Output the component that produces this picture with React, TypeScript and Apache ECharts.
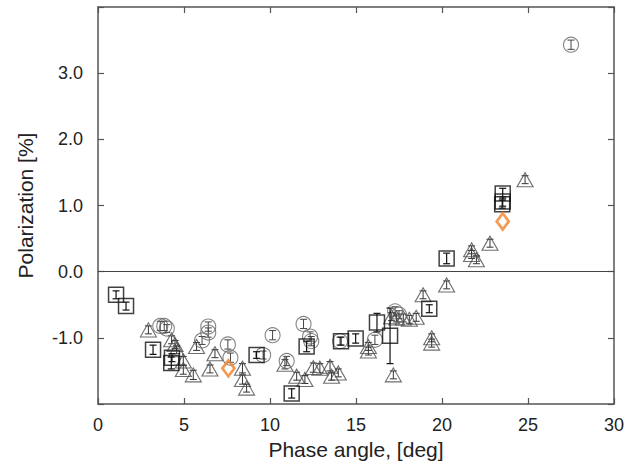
import React, { useEffect, useRef } from "react";
import * as echarts from "echarts";

// [phase angle (deg), polarization (%), error (%)]
const squares: number[][] = [
  [1.05, -0.35, 0.06], [1.63, -0.52, 0.06], [3.2, -1.18, 0.07], [4.26, -1.38, 0.09],
  [4.3, -1.3, 0.06], [9.22, -1.26, 0.05], [11.26, -1.84, 0.07], [12.13, -1.13, 0.08],
  [14.13, -1.05, 0.06], [14.98, -1.01, 0.07], [16.22, -0.77, 0.14], [16.98, -0.97, 0.42],
  [19.26, -0.56, 0.06], [20.27, 0.2, 0.08], [23.53, 1.18, 0.08], [23.53, 1.06, 0.07],
  [23.5, 1.02, 0.06],
];

const circles: number[][] = [
  [27.5, 3.43, 0.07], [3.62, -0.82, 0.07], [3.85, -0.82, 0.07], [4.0, -0.86, 0.06],
  [6.41, -0.83, 0.07], [6.41, -0.92, 0.07], [6.05, -1.04, 0.06], [7.55, -1.1, 0.07],
  [7.7, -1.3, 0.07], [9.6, -1.26, 0.06], [10.15, -0.96, 0.07], [10.97, -1.35, 0.07],
  [11.95, -0.79, 0.07], [12.33, -0.98, 0.07], [12.4, -1.05, 0.07], [14.07, -1.05, 0.06],
  [16.1, -1.03, 0.07], [17.27, -0.6, 0.07], [17.5, -0.65, 0.06],
];

const triangles: number[][] = [
  [2.93, -0.88, 0.06], [4.28, -1.03, 0.06], [4.48, -1.1, 0.06], [4.57, -1.18, 0.06],
  [4.96, -1.35, 0.07], [4.96, -1.48, 0.07], [5.54, -1.56, 0.07], [5.73, -1.13, 0.06],
  [6.51, -1.47, 0.06], [6.8, -1.24, 0.06], [8.4, -1.46, 0.07], [8.4, -1.63, 0.07],
  [8.64, -1.76, 0.06], [10.87, -1.4, 0.07], [11.55, -1.58, 0.06], [12.03, -1.63, 0.06],
  [12.52, -1.45, 0.07], [12.9, -1.46, 0.07], [13.49, -1.43, 0.07], [13.58, -1.58, 0.06],
  [13.97, -1.53, 0.06], [15.72, -1.13, 0.06], [15.72, -1.2, 0.06], [17.17, -1.56, 0.06],
  [17.07, -0.68, 0.06], [17.36, -0.7, 0.06], [17.75, -0.7, 0.06], [18.1, -0.72, 0.06],
  [18.5, -0.69, 0.06], [18.9, -0.35, 0.06], [19.4, -1.0, 0.06], [19.4, -1.08, 0.06],
  [20.27, -0.2, 0.06], [21.72, 0.33, 0.06], [21.72, 0.26, 0.06], [22.0, 0.18, 0.06],
  [22.79, 0.43, 0.06], [24.83, 1.39, 0.06],
];

const diamonds: number[][] = [
  [7.58, -1.46, 0.05], [23.53, 0.76, 0.05],
];

const xTicks = [0, 5, 10, 15, 20, 25, 30];
const yTicks = [-1, 0, 1, 2, 3];

const FONT = "Liberation Sans, Arial, sans-serif";

function errorBars(data: number[][], color: string, width: number, z: number) {
  return {
    type: "custom",
    data,
    z,
    silent: true,
    renderItem: (_params: any, api: any) => {
      const x = api.value(0);
      const y = api.value(1);
      const e = api.value(2);
      const top = api.coord([x, y + e]);
      const bot = api.coord([x, y - e]);
      const cap = 3.5;
      const style = { stroke: color, lineWidth: width };
      return {
        type: "group",
        children: [
          { type: "line", shape: { x1: top[0], y1: top[1], x2: bot[0], y2: bot[1] }, style },
          { type: "line", shape: { x1: top[0] - cap, y1: top[1], x2: top[0] + cap, y2: top[1] }, style },
          { type: "line", shape: { x1: bot[0] - cap, y1: bot[1], x2: bot[0] + cap, y2: bot[1] }, style },
        ],
      };
    },
  };
}

function markers(data: number[][], symbol: string, size: any, color: string, width: number, z: number) {
  return {
    type: "scatter",
    data: data.map((d) => [d[0], d[1]]),
    symbol,
    symbolSize: size,
    z,
    itemStyle: { color: "rgba(0,0,0,0)", borderColor: color, borderWidth: width },
  };
}

export default function App() {
  const ref = useRef<HTMLDivElement>(null);

  useEffect(() => {
    if (!ref.current) return;
    const chart = echarts.init(ref.current, null, { renderer: "svg" });
    const axisLine = { show: true, onZero: false, lineStyle: { color: "#555", width: 1.5 } };
    const tick = { show: true, inside: true, length: 6, lineStyle: { color: "#555", width: 1.2 } };
    chart.setOption({
      animation: false,
      backgroundColor: "#fff",
      grid: { left: 98, right: 16, top: 7, bottom: 68 },
      xAxis: [
        {
          type: "value", min: 0, max: 30, interval: 5, position: "bottom",
          axisLine, axisTick: tick, splitLine: { show: false },
          axisLabel: {
            margin: 12, fontSize: 18, color: "#222", fontFamily: FONT,
            formatter: (v: number) => (xTicks.includes(v) ? String(v) : ""),
          },
          name: "Phase angle, [deg]", nameLocation: "middle", nameGap: 33,
          nameTextStyle: { fontSize: 21, color: "#222", fontFamily: FONT },
        },
        {
          type: "value", min: 0, max: 30, interval: 5, position: "top",
          axisLine, axisTick: tick, axisLabel: { show: false }, splitLine: { show: false },
        },
      ],
      yAxis: [
        {
          type: "value", min: -2, max: 4, interval: 1, position: "left",
          axisLine, axisTick: tick, splitLine: { show: false },
          axisLabel: {
            margin: 15, fontSize: 18, color: "#222", fontFamily: FONT,
            formatter: (v: number) => (yTicks.includes(v) ? v.toFixed(1) : ""),
          },
          name: "Polarization [%]", nameLocation: "middle", nameGap: 62,
          nameTextStyle: { fontSize: 21, color: "#222", fontFamily: FONT },
        },
        {
          type: "value", min: -2, max: 4, interval: 1, position: "right",
          axisLine, axisTick: tick, axisLabel: { show: false }, splitLine: { show: false },
        },
      ],
      series: [
        {
          type: "line", data: [], silent: true,
          markLine: {
            silent: true, symbol: "none", label: { show: false },
            lineStyle: { color: "#444", width: 1.2, type: "solid" },
            data: [{ yAxis: 0 }],
          },
        },
        errorBars(triangles, "#333", 1, 2),
        markers(triangles, "triangle", [16, 14], "#4a4a4a", 1.1, 3),
        errorBars(circles, "#444", 1, 4),
        markers(circles, "circle", 15, "#666", 1.1, 5),
        errorBars(squares, "#111", 1.2, 6),
        markers(squares, "rect", 15, "#111", 1.5, 7),
        markers(diamonds, "diamond", [12, 16], "#f0822a", 2.8, 8),
      ],
    });
    return () => chart.dispose();
  }, []);

  return <div ref={ref} style={{ position: "fixed", left: 0, top: 0, width: 630, height: 472 }} />;
}
